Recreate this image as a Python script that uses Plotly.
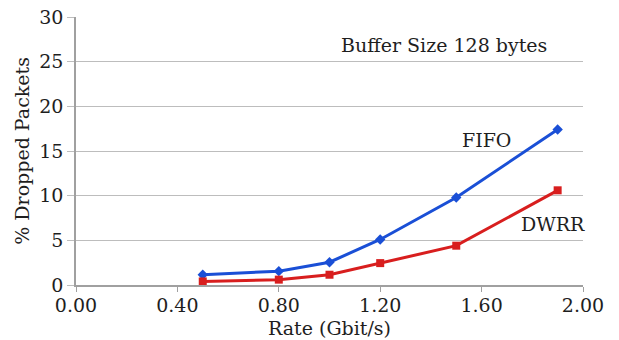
import plotly.graph_objects as go

rate = [0.5, 0.8, 1.0, 1.2, 1.5, 1.9]
fifo = [1.15, 1.55, 2.55, 5.1, 9.8, 17.4]
dwrr = [0.4, 0.6, 1.15, 2.45, 4.4, 10.6]
x_ticks = [0.0, 0.4, 0.8, 1.2, 1.6, 2.0]
x_tick_labels = ["0.00", "0.40", "0.80", "1.20", "1.60", "2.00"]
y_ticks = [0, 5, 10, 15, 20, 25, 30]

FONT = "DejaVu Serif"
TXT = "#1e1e1e"

fig = go.Figure()
fig.add_trace(go.Scatter(x=rate, y=fifo, mode="lines+markers", name="FIFO",
                         line=dict(color="#1a4fd6", width=3),
                         marker=dict(symbol="diamond", size=8, color="#1a4fd6")))
fig.add_trace(go.Scatter(x=rate, y=dwrr, mode="lines+markers", name="DWRR",
                         line=dict(color="#d81e1e", width=3),
                         marker=dict(symbol="square", size=8, color="#d81e1e")))

fig.add_annotation(x=1.45, y=26.9, text="Buffer Size 128 bytes", showarrow=False,
                   font=dict(family=FONT, size=19, color=TXT))
fig.add_annotation(x=1.62, y=16.2, text="FIFO", showarrow=False,
                   font=dict(family=FONT, size=19, color=TXT))
fig.add_annotation(x=1.88, y=6.8, text="DWRR", showarrow=False,
                   font=dict(family=FONT, size=19, color=TXT))
# axis titles
fig.add_annotation(xref="paper", yref="paper", x=0.5, y=-0.16, yanchor="middle",
                   text="Rate (Gbit/s)", showarrow=False,
                   font=dict(family=FONT, size=19, color=TXT))
fig.add_annotation(xref="paper", yref="paper", x=-0.107, y=0.5, xanchor="center",
                   yanchor="middle", textangle=-90,
                   text="% Dropped Packets", showarrow=False,
                   font=dict(family=FONT, size=19, color=TXT))

fig.update_layout(
    width=619, height=340,
    margin=dict(l=76, r=36, t=17, b=55, autoexpand=False),
    plot_bgcolor="white", paper_bgcolor="white",
    showlegend=False,
    font=dict(family=FONT, size=19, color=TXT),
    xaxis=dict(range=[0, 2.0], tickvals=x_ticks, ticktext=x_tick_labels,
               showgrid=False, showline=True, linecolor="#a0a0a0", linewidth=1.5,
               ticks="outside", ticklen=5, tickcolor="#a0a0a0", automargin=False,
               ticklabelstandoff=-3,
               tickfont=dict(family=FONT, size=19, color=TXT), zeroline=False),
    yaxis=dict(range=[0, 30], tickvals=y_ticks,
               showgrid=True, gridcolor="#bdbdbd", gridwidth=1.2,
               showline=True, linecolor="#a0a0a0", linewidth=1.5,
               ticks="outside", ticklen=7, tickcolor="#bdbdbd", automargin=False,
               zeroline=False,
               tickfont=dict(family=FONT, size=19, color=TXT)),
)

fig.write_html("out.html")
